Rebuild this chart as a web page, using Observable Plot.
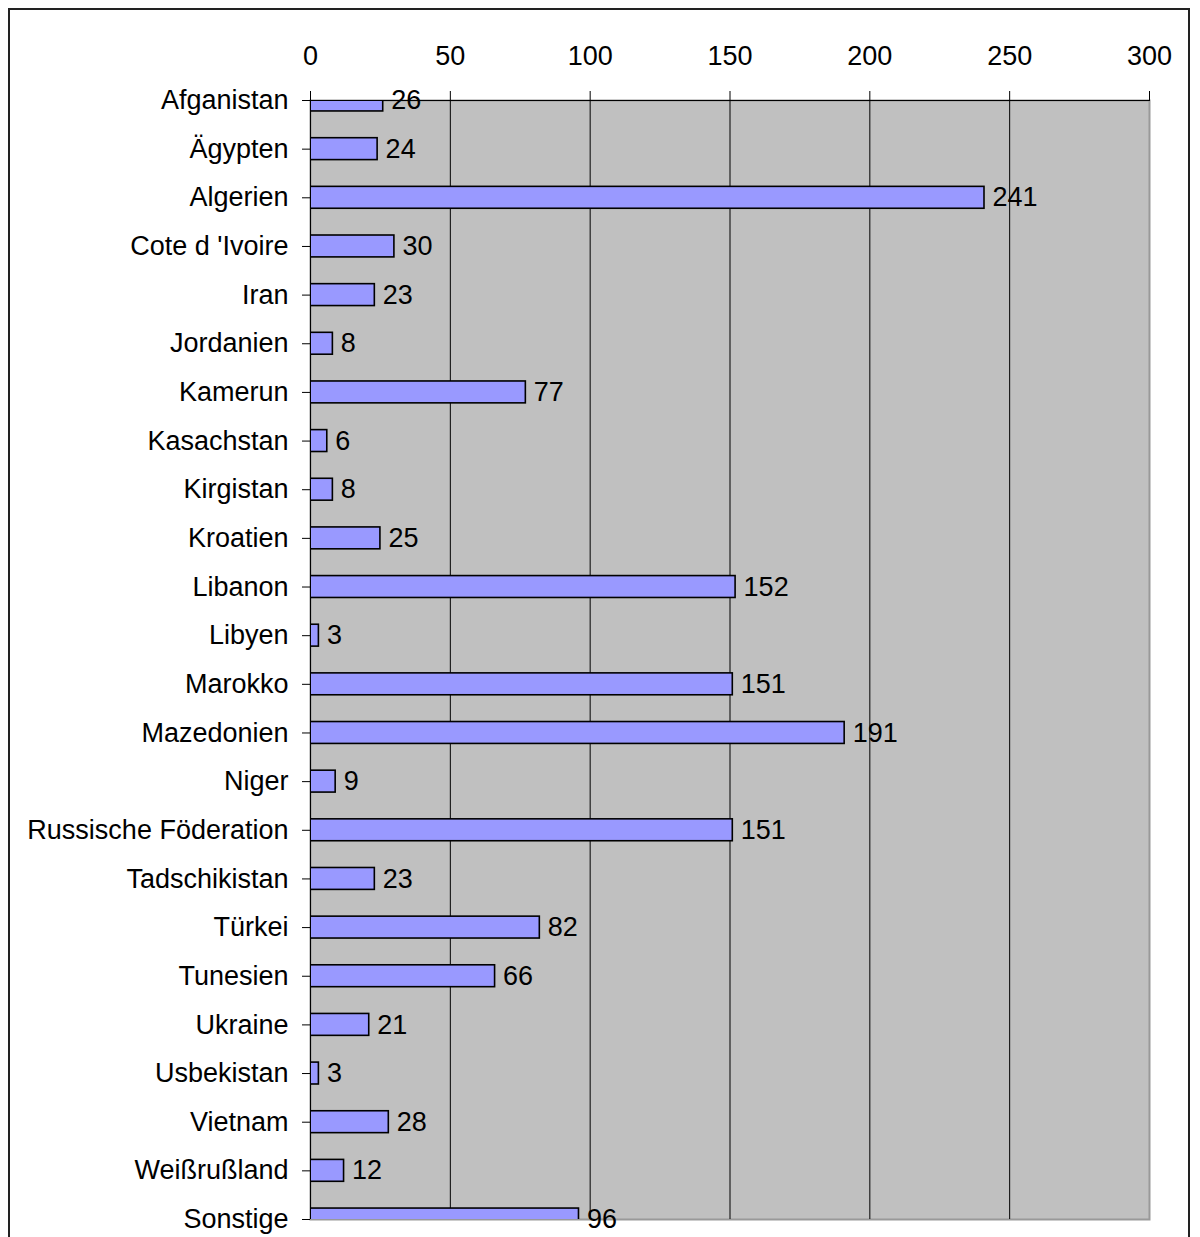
<!DOCTYPE html>
<html>
<head>
<meta charset="utf-8">
<script src="https://cdn.jsdelivr.net/npm/d3@7"></script>
<script src="https://cdn.jsdelivr.net/npm/@observablehq/plot@0.6"></script>
<style>
  html, body { margin: 0; padding: 0; background: #fff; overflow: hidden; }
  #wrap { position: relative; width: 1200px; height: 1237px; }
  #border {
    position: absolute; left: 8px; top: 8px; width: 1182px; height: 1300px;
    border: 2px solid #222; box-sizing: border-box; pointer-events: none;
  }
</style>
</head>
<body>
<div id="wrap"><div id="border"></div></div>
<script>
// Countries (top to bottom) and their counts
const countries = [
  "Afganistan", "Ägypten", "Algerien", "Cote d 'Ivoire", "Iran", "Jordanien",
  "Kamerun", "Kasachstan", "Kirgistan", "Kroatien", "Libanon", "Libyen",
  "Marokko", "Mazedonien", "Niger", "Russische Föderation", "Tadschikistan",
  "Türkei", "Tunesien", "Ukraine", "Usbekistan", "Vietnam", "Weißrußland", "Sonstige"
];
const counts = [26, 24, 241, 30, 23, 8, 77, 6, 8, 25, 152, 3, 151, 191, 9, 151, 23, 82, 66, 21, 3, 28, 12, 96];
const xTicks = [0, 50, 100, 150, 200, 250, 300];

const data = countries.map((c, i) => ({country: c, value: counts[i]}));

const W = 1200, H = 1237;
const mL = 310, mR = 51, mT = 100, mB = 18;
const yTop = mT, yBottom = H - mB;
// first and last category sit on the frame edges
const step = (yBottom - yTop) / (countries.length - 1);
const pad = 0.55;

const font = "'Liberation Sans', Arial, sans-serif";

const chart = Plot.plot({
  width: W,
  height: H,
  marginLeft: mL,
  marginRight: mR,
  marginTop: mT,
  marginBottom: mB,
  style: {fontFamily: font, fontSize: "27px", color: "#000", background: "transparent"},
  x: {domain: [0, 300], ticks: xTicks, label: null},
  y: {
    type: "band",
    domain: countries,
    range: [yTop - step / 2, yBottom + step / 2],
    paddingInner: pad,
    paddingOuter: pad / 2,
    round: false,
    label: null
  },
  marks: [
    Plot.frame({fill: "#C0C0C0", stroke: "#999", strokeWidth: 2}),
    Plot.ruleX(xTicks.slice(1, -1), {stroke: "#000", strokeWidth: 1}),
    Plot.barX(data, {x: "value", y: "country", fill: "#9999FF", stroke: "#000", strokeWidth: 1.6, clip: true}),
    // axis lines along the top and left edges of the plot area
    Plot.ruleY([countries[0]], {stroke: "#000", strokeWidth: 1}),
    Plot.ruleX([0], {stroke: "#000", strokeWidth: 1}),
    Plot.axisX({anchor: "top", ticks: xTicks, tickSize: 10, tickPadding: 26, fontSize: 27, label: null, stroke: "#000"}),
    Plot.axisY({anchor: "left", tickSize: 8, tickPadding: 14, fontSize: 27, label: null, stroke: "#000"}),
    Plot.text(data, {x: "value", y: "country", text: d => String(d.value), dx: 8, textAnchor: "start", fontSize: 27, fill: "#000"})
  ]
});

document.getElementById("wrap").prepend(chart);
</script>
</body>
</html>
